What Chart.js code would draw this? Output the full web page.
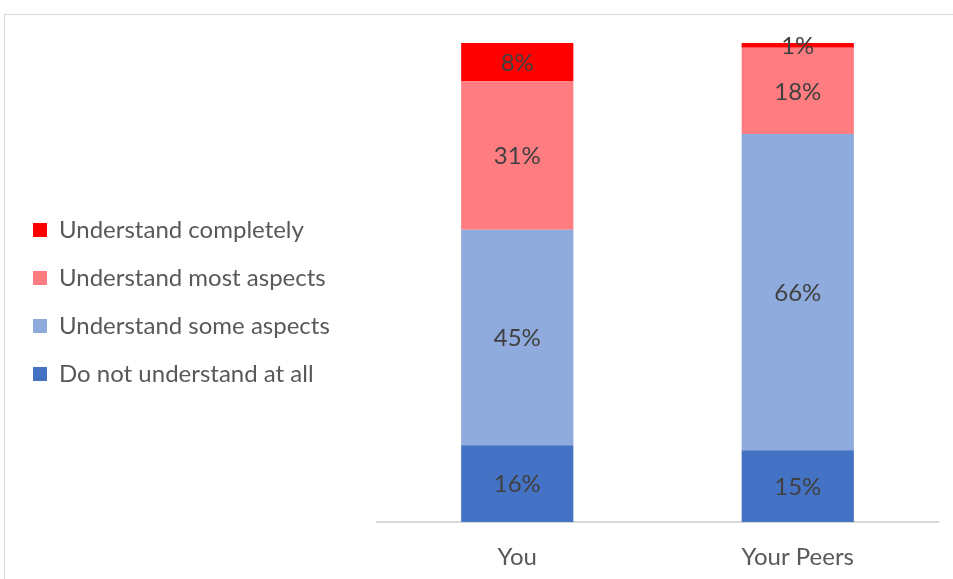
<!DOCTYPE html>
<html>
<head>
<meta charset="utf-8">
<script src="https://cdn.jsdelivr.net/npm/chart.js@4.4.1/dist/chart.umd.min.js"></script>
<style>
  html, body { margin: 0; padding: 0; background: #fff; overflow: hidden; }
  #wrap { position: relative; width: 953px; height: 579px; }
  #frame { position: absolute; left: 4px; top: 14px; width: 1000px; height: 700px; border: 1px solid #d9d9d9; }
  #myChart { position: absolute; left: 0; top: 0; }
</style>
</head>
<body>
<div id="wrap">
  <div id="frame"></div>
  <canvas id="myChart" width="953" height="579"></canvas>
</div>
<script>
const groups = ['You', 'Your Peers'];

const notAtAll = [16, 15];
const someAspects = [45, 66];
const mostAspects = [31, 18];
const completely = [8, 1];

const seriesNames = ['Do not understand at all', 'Understand some aspects', 'Understand most aspects', 'Understand completely'];
const seriesColors = ['#4472C4', '#8FAADC', '#FF7C80', '#FF0000'];

const FONT = 'Lato, "Open Sans", sans-serif';

// writes the percentage in the middle of every segment
const segmentLabels = {
    id: 'segmentLabels',
    afterDatasetsDraw(chart) {
        const ctx = chart.ctx;
        ctx.save();
        ctx.font = '24px ' + FONT;
        ctx.fillStyle = '#404040';
        ctx.textAlign = 'center';
        ctx.textBaseline = 'middle';
        chart.data.datasets.forEach((ds, i) => {
            chart.getDatasetMeta(i).data.forEach((bar, j) => {
                const y = (bar.y + bar.base) / 2;
                ctx.fillText(ds.data[j] + '%', bar.x, y + 1);
            });
        });
        ctx.restore();
    }
};

// legend sits on the left with a fixed width, slightly shifted up
const legendPlace = {
    id: 'legendPlace',
    beforeInit(chart) {
        const fit = chart.legend.fit;
        chart.legend.fit = function () {
            fit.bind(chart.legend)();
            this.width = 368;
        };
    },
    afterLayout(chart) {
        chart.legend.top -= 9;
        chart.legend.bottom -= 9;
    }
};

const ctx = document.getElementById('myChart');

const myChart = new Chart(ctx, {
    type: 'bar',
    data: {
        labels: groups,
        datasets: [notAtAll, someAspects, mostAspects, completely].map((values, i) => ({
            label: seriesNames[i],
            data: values,
            backgroundColor: seriesColors[i],
            borderWidth: 0,
            barPercentage: 0.4,
            categoryPercentage: 1.0
        }))
    },
    options: {
        responsive: false,
        animation: false,
        layout: {
            padding: { left: 9, top: 43, right: 15, bottom: 0 }
        },
        scales: {
            x: {
                stacked: true,
                grid: { display: false, drawTicks: false },
                border: { display: true, color: '#d9d9d9', width: 2 },
                ticks: {
                    color: '#595959',
                    font: { family: FONT, size: 24 },
                    padding: 21
                },
                afterFit(scale) {
                    scale.height = 57;
                }
            },
            y: {
                stacked: true,
                display: false,
                min: 0,
                max: 100
            }
        },
        plugins: {
            legend: {
                position: 'left',
                reverse: true,
                labels: {
                    boxWidth: 14,
                    boxHeight: 14,
                    padding: 24,
                    color: '#595959',
                    font: { family: FONT, size: 24 }
                }
            },
            tooltip: { enabled: false }
        }
    },
    plugins: [segmentLabels, legendPlace]
});
</script>
</body>
</html>
